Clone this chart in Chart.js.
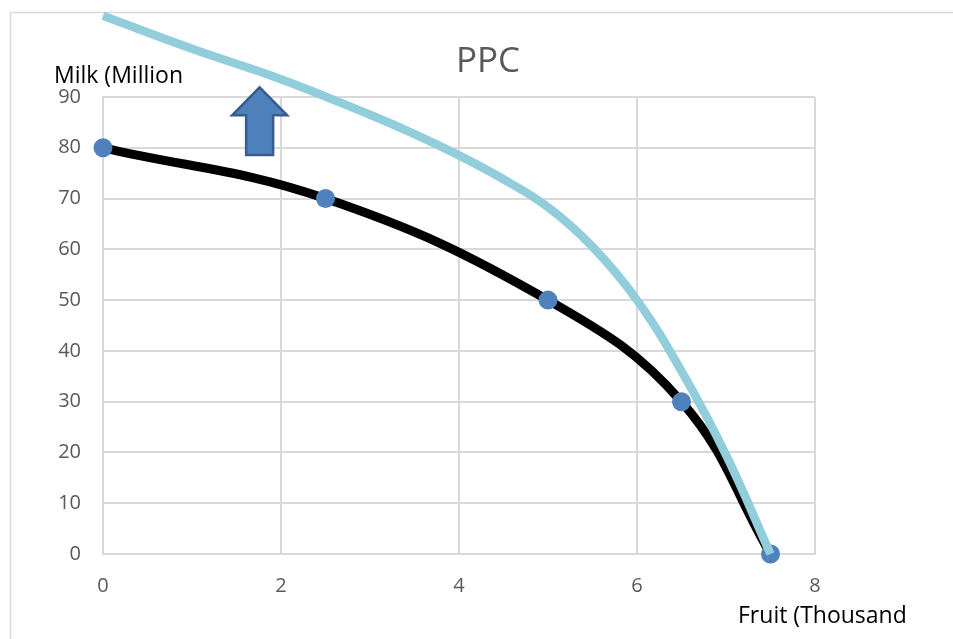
<!DOCTYPE html>
<html>
<head>
<meta charset="utf-8">
<title>PPC</title>
<script src="https://cdn.jsdelivr.net/npm/chart.js@4.4.1/dist/chart.umd.min.js"></script>
<style>
  html, body { margin: 0; padding: 0; background: #fff; }
  #ppc-chart { display: block; }
</style>
</head>
<body>
<canvas id="ppc-chart" width="953" height="639"></canvas>
<script>
// values
var fruit = [0, 2.5, 5, 6.5, 7.5];
var milk = [80, 70, 50, 30, 0];

// shifted curve, read at more points so the bend follows the picture
var fruitShifted = [0, 1, 2, 3, 3.5, 4, 4.5, 5, 5.5, 6, 6.5, 7, 7.5];
var milkShifted = [106, 99.5, 93.5, 86.5, 82.7, 78.5, 73.8, 68.3, 60.5, 50, 36, 19.5, 0];

var xTicks = [0, 2, 4, 6, 8];
var yTicks = [0, 10, 20, 30, 40, 50, 60, 70, 80, 90];

var chartTitle = 'PPC';
var yTitle = 'Milk (Million';
var xTitle = 'Fruit (Thousand';

// up arrow (x, base y, tip y) in data units
var arrowAt = [1.76, 78.6, 91.9];

var FONT = '"Open Sans", "Noto Sans", sans-serif';

function toPoints(xs, ys) {
  return xs.map(function (x, i) { return { x: x, y: ys[i] }; });
}

var decorations = {
  id: 'decorations',
  beforeDraw: function (chart) {
    var ctx = chart.ctx;
    ctx.save();
    ctx.fillStyle = '#ffffff';
    ctx.fillRect(0, 0, chart.width, chart.height);
    ctx.strokeStyle = '#d9d9d9';
    ctx.lineWidth = 1.5;
    ctx.strokeRect(10.5, 12.5, chart.width + 20, chart.height + 20);
    ctx.restore();
  },
  afterDatasetsDraw: function (chart) {
    var ctx = chart.ctx;
    var xs = chart.scales.x, ys = chart.scales.y;

    // arrow
    var cx = xs.getPixelForValue(arrowAt[0]);
    var yBase = ys.getPixelForValue(arrowAt[1]);
    var yTip = ys.getPixelForValue(arrowAt[2]);
    var headW = 27.5, shaftW = 13.5, headH = 28;
    ctx.save();
    ctx.beginPath();
    ctx.moveTo(cx, yTip);
    ctx.lineTo(cx + headW, yTip + headH);
    ctx.lineTo(cx + shaftW, yTip + headH);
    ctx.lineTo(cx + shaftW, yBase);
    ctx.lineTo(cx - shaftW, yBase);
    ctx.lineTo(cx - shaftW, yTip + headH);
    ctx.lineTo(cx - headW, yTip + headH);
    ctx.closePath();
    ctx.fillStyle = '#4f81bd';
    ctx.fill();
    ctx.lineJoin = 'miter';
    ctx.lineWidth = 2.5;
    ctx.strokeStyle = '#385d8a';
    ctx.stroke();
    ctx.restore();
  },
  afterDraw: function (chart) {
    var ctx = chart.ctx;
    ctx.save();
    ctx.textBaseline = 'alphabetic';

    ctx.fillStyle = '#595959';
    ctx.font = '35px ' + FONT;
    ctx.textAlign = 'center';
    ctx.fillText(chartTitle, 488, 72);

    ctx.fillStyle = '#000000';
    ctx.font = '23px ' + FONT;
    ctx.textAlign = 'left';
    ctx.fillText(yTitle, 54, 83);
    ctx.fillText(xTitle, 738, 623);
    ctx.restore();
  }
};

new Chart(document.getElementById('ppc-chart'), {
  type: 'scatter',
  data: {
    datasets: [{
      label: 'Shifted PPC',
      data: toPoints(fruitShifted, milkShifted),
      showLine: true,
      borderColor: '#92cddc',
      borderWidth: 8.5,
      tension: 0.4,
      pointRadius: 0,
      pointHoverRadius: 0,
      clip: false,
      order: 0
    }, {
      label: 'PPC',
      data: toPoints(fruit, milk),
      showLine: true,
      borderColor: '#000000',
      borderWidth: 9,
      tension: 0.4,
      pointRadius: 9.5,
      pointBackgroundColor: '#4f81bd',
      pointBorderColor: '#4f81bd',
      pointBorderWidth: 0,
      clip: false,
      order: 1
    }]
  },
  options: {
    responsive: false,
    animation: false,
    devicePixelRatio: 1,
    layout: {
      padding: { left: 0, right: 138, top: 97, bottom: 0 }
    },
    plugins: {
      legend: { display: false },
      tooltip: { enabled: false },
      title: { display: false }
    },
    scales: {
      x: {
        type: 'linear',
        min: 0,
        max: 8,
        afterBuildTicks: function (scale) {
          scale.ticks = xTicks.map(function (v) { return { value: v }; });
        },
        afterFit: function (scale) { scale.height = 85; },
        grid: { color: '#d9d9d9', lineWidth: 2, drawTicks: false },
        border: { color: '#d9d9d9', width: 2 },
        ticks: {
          padding: 20,
          color: '#595959',
          font: { family: FONT, size: 20 }
        }
      },
      y: {
        type: 'linear',
        min: 0,
        max: 90,
        afterBuildTicks: function (scale) {
          scale.ticks = yTicks.map(function (v) { return { value: v }; });
        },
        afterFit: function (scale) { scale.width = 103; },
        grid: { color: '#d9d9d9', lineWidth: 2, drawTicks: false },
        border: { color: '#d9d9d9', width: 2 },
        ticks: {
          padding: 22,
          color: '#595959',
          font: { family: FONT, size: 20 }
        }
      }
    }
  },
  plugins: [decorations]
});
</script>
</body>
</html>
